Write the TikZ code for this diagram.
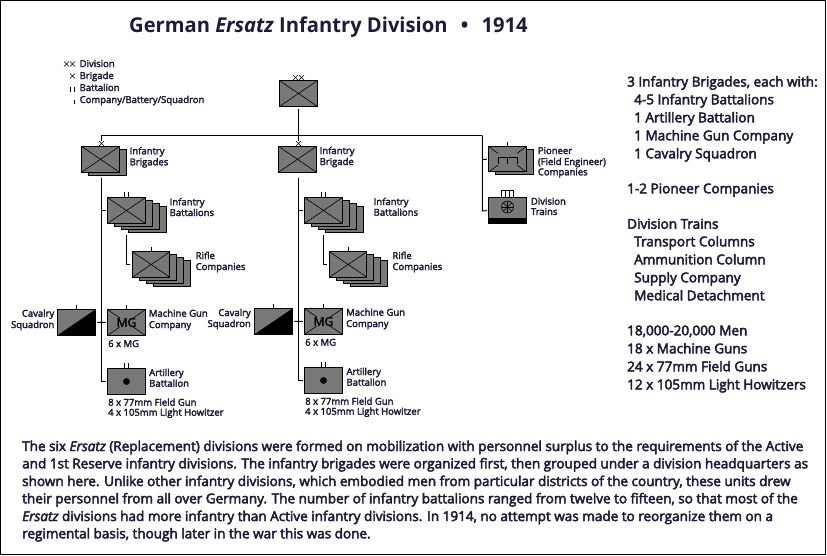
\documentclass[tikz,border=0pt]{standalone}
\usepackage{fontspec}
\setmainfont{Open Sans}
\definecolor{ink}{HTML}{1C1C3A}
\definecolor{boxgray}{HTML}{787878}
\newcommand{\heavy}[1]{\special{pdf:code 2 Tr #1 w}}
\tikzset{
 unit/.style={rectangle,draw=black,line width=1pt,fill=boxgray,minimum width=37.5pt,minimum height=25.5pt,inner sep=0pt,outer sep=0pt},
 crossed/.style={unit,path picture={\draw[line width=.6pt] (path picture bounding box.north west)--(path picture bounding box.south east) (path picture bounding box.south west)--(path picture bounding box.north east);}},
 halfblack/.style={unit,path picture={\fill[black] (path picture bounding box.south west)--(path picture bounding box.south east)--(path picture bounding box.north east)--cycle;}},
 link/.style={draw=black,line width=1pt},
 thinmark/.style={draw=black,line width=.6pt},
 lbl/.style={anchor=base west,inner sep=0pt,text=ink,font=\fontsize{9.5}{11}\selectfont\heavy{0.28}},
 lblr/.style={lbl,anchor=base east},
 side/.style={anchor=base west,inner sep=0pt,text=ink,font=\fontsize{13.55}{15}\selectfont\heavy{0.45}},
 para/.style={anchor=base west,inner sep=0pt,text=ink,font=\fontsize{13.53}{15}\selectfont\heavy{0.45}},
}
\newcommand{\fitw}[2]{\resizebox{#1pt}{\height}{#2}}
% echelon marks above a point
\newcommand{\exx}[2]{\draw[thinmark] ({#1-2.5},{#2-2.5})--({#1+2.5},{#2+2.5}) ({#1-2.5},{#2+2.5})--({#1+2.5},{#2-2.5});}
\newcommand{\eii}[2]{\draw[thinmark] ({#1-2},#2)--({#1-2},{#2-5}) ({#1+2},#2)--({#1+2},{#2-5});}
\newcommand{\ei}[2]{\draw[thinmark] (#1,#2)--(#1,{#2-4.5});}
\newcommand{\stackback}[4]{\foreach \k in {#4,...,1}{\node[unit] (#1-\k) at ({#2+7*\k},{#3+3*\k}) {};}}
% shared column: prefix, dx, dy of the lower part
\newcommand{\unitcol}[3]{%
 \stackback{#1bat}{126.5+#2}{210.5}{3}
 \node[crossed] (#1bat) at ({126.5+#2},210.5) {};
 \eii{126.5+#2}{197}
 \stackback{#1rif}{151.2+#2}{264.5}{3}
 \node[crossed] (#1rif) at ({151.2+#2},264.5) {};
 \ei{151.2+#2}{251}
 \node[halfblack] (#1cav) at ({76.6+#2},{322.3+#3}) {};
 \ei{76.6+#2}{309+#3}
 \node[crossed] (#1mg) at ({126.5+#2},{322.5+#3}) {};
 \node[fill=boxgray,inner sep=.3pt,text=black,font=\fontsize{12}{13}\selectfont\heavy{0.3}] (#1mgt) at (#1mg) {MG};
 \ei{126.5+#2}{309+#3}
 \node[unit] (#1art) at ({126.5+#2},{381.5+#3}) {};
 \fill[black] (#1art) circle (3.4);
 \eii{126.5+#2}{368+#3}
 \coordinate (#1top) at ({101.5+#2},178);
 \coordinate (#1artj) at ({101.5+#2},{381.5+#3});
 \coordinate (#1batj) at ({101.5+#2},210.5);
 \coordinate (#1rift) at ({126.3+#2},235);
 \coordinate (#1rifj) at ({126.3+#2},264.5);
 \draw[link,shorten >=2pt] (#1top)--(#1artj)--(#1art.west);
 \draw[link,shorten >=2pt] (#1batj)--(#1bat.west);
 \draw[link,shorten >=2pt,shorten <=2pt] (#1mg.west)--(#1cav.east);
 \draw[link,shorten >=2pt] (#1rift)--(#1rifj)--(#1rif.west);
}
\begin{document}
\begin{tikzpicture}[x=1pt,y=-1pt]
\useasboundingbox (0,0) rectangle (827,555);
\fill[white] (0,0) rectangle (827,555);
\draw[black,line width=1.4pt] (.6,.6) rectangle (825.6,554.2);

\node[anchor=base west,inner sep=0pt,text=ink,font=\bfseries\fontsize{20.5}{24}\selectfont] (title) at (129,32) {\fitw{398.5}{German \textit{Ersatz} Infantry Division\hspace{13.5pt}•\hspace{13.5pt}1914}};

% legend
\node[lbl] (l1) at (79.5,67) {Division};
\node[lbl] (l2) at (79.5,79) {Brigade};
\node[lbl] (l3) at (79.5,91) {Battalion};
\node[lbl] (l4) at (79.5,103) {Company/Battery/Squadron};
\exx{66.5}{64}\exx{72.5}{64}\exx{72.5}{76}
\draw[thinmark] (70.5,92)--(70.5,87) (74.5,92)--(74.5,87) (74.3,104)--(74.3,99.5);

% division
\node[crossed] (div) at (298.5,93.5) {};
\exx{295.5}{77.5}\exx{301.5}{77.5}
\coordinate (divb) at (298.5,109);
\coordinate (hub) at (298.5,135.5);
\coordinate (hl) at (101.5,135.5);
\coordinate (hr) at (482.3,135.5);
\coordinate (brl) at (101.5,140.5);
\coordinate (brc) at (298.5,140.5);

% brigades
\stackback{bl}{100.5}{159.3}{1}
\node[crossed] (bl) at (100.5,159.3) {};
\exx{101.5}{143.5}
\node[crossed] (bc) at (297.5,159.3) {};
\exx{298.5}{143.5}
\draw[link] (divb)--(hub);
\draw[link] (brl)--(hl)--(hr);
\draw[link] (hub)--(brc);

\unitcol{a}{0}{0}
\unitcol{b}{197}{-1}

% pioneer and trains
\stackback{pi}{507.5}{159.2}{1}
\node[unit] (pi) at (507.5,159.2) {};
\draw[thinmark] (pi.north west)--(498,153.5) (pi.north east)--(517,153.5) (pi.south west)--(498,165) (pi.south east)--(517,165);
\draw[thinmark] (498,164)--(498,157)--(517,157)--(517,164) (507.5,157)--(507.5,164);
\ei{507.5}{146.5}
\node[unit] (tr) at (507.5,210.5) {};
\fill[black] (488.8,217.7) rectangle (526.3,223.3);
\draw[thinmark,fill=white] (501.7,190.5) rectangle (513.7,197.2);
\draw[thinmark] (505.7,190.5)--(505.7,197.2) (509.7,190.5)--(509.7,197.2);
\draw[thinmark] (507.5,207) circle (6);
\foreach \a in {0,45,...,315}{\draw[thinmark] (507.5,207)--++(\a:6);}
\coordinate (trj) at (482.3,211);
\coordinate (pij) at (482.3,159.3);
\draw[link,shorten >=2pt] (hr)--(trj)--(tr.west);
\draw[link,shorten >=2pt] (pij)--(pi.west);

% chart labels, left
\node[lbl] at (129.5,154.3) {Infantry};
\node[lbl] at (129.5,165.3) {Brigades};
\node[lbl] at (169.5,205.3) {Infantry};
\node[lbl] at (169.5,216) {Battalions};
\node[lbl] at (195.5,259) {Rifle};
\node[lbl] at (195.5,270) {Companies};
\node[lblr] at (54.5,316.7) {Cavalry};
\node[lblr] at (54.5,328) {Squadron};
\node[lbl] at (148.7,316.7) {Machine Gun};
\node[lbl] at (148.7,328) {Company};
\node[lbl] at (108,347) {6 x MG};
\node[lbl] at (149,376) {Artillery};
\node[lbl] at (149,386.7) {Battalion};
\node[lbl] at (108,405.7) {8 x 77mm Field Gun};
\node[lbl] at (108,415.7) {4 x 105mm Light Howitzer};
% chart labels, centre
\node[lbl] at (319.5,154) {Infantry};
\node[lbl] at (319.5,165) {Brigade};
\node[lbl] at (373.5,205) {Infantry};
\node[lbl] at (373.5,215.7) {Battalions};
\node[lbl] at (392.3,259) {Rifle};
\node[lbl] at (392.3,270) {Companies};
\node[lblr] at (251,316) {Cavalry};
\node[lblr] at (251,327) {Squadron};
\node[lbl] at (346,315.7) {Machine Gun};
\node[lbl] at (346,327) {Company};
\node[lbl] at (305,345.7) {6 x MG};
\node[lbl] at (346.3,375) {Artillery};
\node[lbl] at (346.3,385.7) {Battalion};
\node[lbl] at (305,404.7) {8 x 77mm Field Gun};
\node[lbl] at (305,414.7) {4 x 105mm Light Howitzer};
% chart labels, right
\node[lbl] at (537.7,154) {Pioneer};
\node[lbl] at (537.7,165) {(Field Engineer)};
\node[lbl] at (537.7,175.3) {Companies};
\node[lbl] at (530.7,204.7) {Division};
\node[lbl] at (530.7,215) {Trains};

% side column
\node[side] at (627,86.5) {3 Infantry Brigades, each with:};
\node[side] at (634,104.3) {4-5 Infantry Battalions};
\node[side] at (634,122.3) {1 Artillery Battalion};
\node[side] at (634,140.3) {1 Machine Gun Company};
\node[side] at (634,158.3) {1 Cavalry Squadron};
\node[side] at (627,193.3) {1-2 Pioneer Companies};
\node[side] at (627,228.7) {Division Trains};
\node[side] at (634,246.3) {Transport Columns};
\node[side] at (634,264.3) {Ammunition Column};
\node[side] at (634,282.3) {Supply Company};
\node[side] at (634,300.3) {Medical Detachment};
\node[side] at (627,335.3) {18,000-20,000 Men};
\node[side] at (627,353.3) {18 x Machine Guns};
\node[side] at (627,371.3) {24 x 77mm Field Guns};
\node[side] at (627,389.3) {12 x 105mm Light Howitzers};

% paragraph
\node[para] at (22,451) {The six \textit{Ersatz} (Replacement) divisions were formed on mobilization with personnel surplus to the requirements of the Active};
\node[para] at (22,468.3) {and 1st Reserve infantry divisions. The infantry brigades were organized first, then grouped under a division headquarters as};
\node[para] at (22,486) {shown here. Unlike other infantry divisions, which embodied men from particular districts of the country, these units drew};
\node[para] at (22,503.3) {their personnel from all over Germany. The number of infantry battalions ranged from twelve to fifteen, so that most of the};
\node[para] at (22,521) {\textit{Ersatz} divisions had more infantry than Active infantry divisions. In 1914, no attempt was made to reorganize them on a};
\node[para] at (22,538.3) {regimental basis, though later in the war this was done.};
\end{tikzpicture}
\end{document}
